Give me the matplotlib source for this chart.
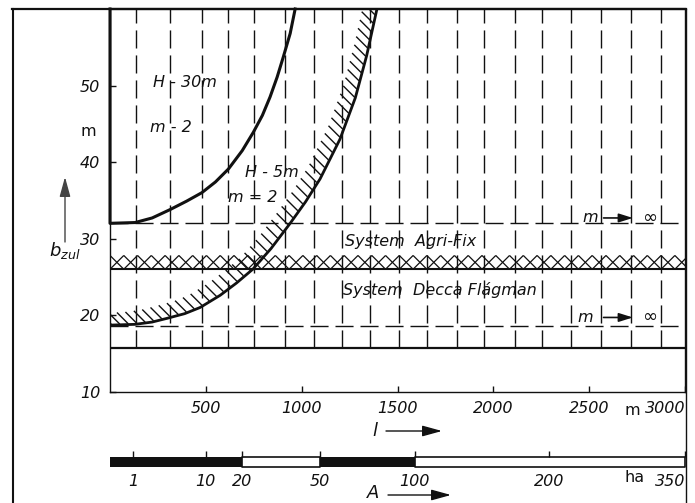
import numpy as np
import matplotlib
matplotlib.use('Agg')
import matplotlib.pyplot as plt
from matplotlib.collections import LineCollection
from matplotlib.lines import Line2D
from matplotlib.patches import FancyArrowPatch
import matplotlib.transforms as mtransforms

plt.rcParams['font.family'] = ['DejaVu Sans']
plt.rcParams['mathtext.fontset'] = 'dejavusans'

# ---------------- data ----------------
# H = 30 m, m = 2 curve (l in m, b_zul in m)
h30_l = [0, 0, 131, 220, 314, 400, 479, 550, 618, 690, 748, 795, 835, 872, 905, 940, 966]
h30_b = [60.0, 32.0, 32.1, 32.7, 33.8, 34.9, 36.0, 37.4, 39.1, 41.5, 43.9, 46.1, 48.5, 51.1, 53.8, 56.8, 60.0]
# H = 5 m, m = 2 curve
h5_l = [0, 130, 220, 300, 390, 470, 575, 660, 745, 840, 940, 1020, 1096, 1200, 1280, 1339, 1391]
h5_b = [18.7, 18.8, 19.1, 19.6, 20.2, 21.0, 22.6, 24.2, 26.0, 28.7, 32.0, 34.8, 37.8, 43.0, 48.4, 53.9, 59.8]
# vertical dashed guide lines (l positions)
grid_l = [137, 314, 479, 617, 752, 912, 1065, 1213, 1358, 1506, 1653, 1809,
          1951, 2111, 2255, 2407, 2564, 2718, 2873]
# horizontal levels
limit_agrifix = 32.0      # m -> infinity (dashed)
limit_decca = 18.6        # m -> infinity (dashed)
band_low, band_high = 26.0, 27.8   # cross-hatched band
base_level = 15.7         # solid base line

l_ticks = [500, 1000, 1500, 2000, 2500, 3000]
l_ticklabels = ['500', '1000', '1500', '2000', '2500', '3000']
b_ticks = [10, 20, 30, 40, 50]
b_ticklabels = ['10', '20', '30', '40', '50']

# area scale A (ha) and where its ticks sit on the l scale
A_labels = ['1', '10', '20', '50', '100', '200', '350']
A_pos_l = [120, 500, 690, 1095, 1590, 2290, 3000]

W, H = 695, 503
fig = plt.figure(figsize=(W / 100, H / 100), dpi=100)

def fx(x):
    return x / W

def fy(y):
    return 1 - y / H

ax_left, ax_right, ax_top, ax_bot = 110, 685, 9, 391.7
ax = fig.add_axes([fx(ax_left), fy(ax_bot), (ax_right - ax_left) / W, (ax_bot - ax_top) / H])
ax.set_xlim(0, 3000)
ax.set_ylim(10, 60)

ink = '#111111'
dash = (0, (13, 5))

# vertical dashed lines
ax.vlines(grid_l, base_level, 60, colors=ink, linewidth=1.0, linestyles=[dash])
# horizontal lines
ax.hlines([limit_agrifix, limit_decca], 0, 3000, colors=ink, linewidth=1.0, linestyles=[dash])
ax.hlines([band_low], 0, 3000, colors=ink, linewidth=1.5)
ax.hlines([base_level], 0, 3000, colors=ink, linewidth=1.6)

T = ax.transData
Ti = T.inverted()

# cross-hatched band
y0 = T.transform((0, band_low))[1]
y1 = T.transform((0, band_high))[1]
hh = y1 - y0
xl = T.transform((0, band_low))[0]
xr = T.transform((3000, band_low))[0]
segs = []
for xs in np.arange(xl - hh, xr + hh, hh):
    segs.append(Ti.transform([(xs, y0), (xs + hh, y1)]))
    segs.append(Ti.transform([(xs, y1), (xs + hh, y0)]))
ax.add_collection(LineCollection(segs, colors=ink, linewidths=0.9))

# curves
ax.plot(h30_l, h30_b, color=ink, linewidth=2.2, clip_on=False, solid_joinstyle='round')
ax.plot(h5_l, h5_b, color=ink, linewidth=2.0, solid_joinstyle='round')

# hatch strokes on the upper-left side of the H = 5 m curve
P = T.transform(np.column_stack([h5_l, h5_b]))
d = np.r_[0, np.cumsum(np.hypot(*np.diff(P, axis=0).T))]
s = np.arange(2, d[-1], 8.5)
pts = np.column_stack([np.interp(s, d, P[:, 0]), np.interp(s, d, P[:, 1])])
u = np.array([-1.0, 1.0]) / np.sqrt(2)
st = pts + 1.0 * u
en = pts + 17.0 * u
hseg = [Ti.transform([a, b]) for a, b in zip(st, en)]
ax.add_collection(LineCollection(hseg, colors=ink, linewidths=1.0))

# axes styling
for sp in ['left', 'bottom', 'right']:
    ax.spines[sp].set_linewidth(1.0)
    ax.spines[sp].set_color(ink)
ax.spines['top'].set_linewidth(1.6)
ax.set_xticks(l_ticks)
ax.set_xticklabels(l_ticklabels)
ax.set_yticks(b_ticks)
ax.set_yticklabels(b_ticklabels)
ax.tick_params(axis='both', direction='in', length=4.3, width=1.0, color=ink,
               labelsize=11.5, labelcolor=ink)
ax.tick_params(axis='x', pad=6.5)
ax.tick_params(axis='y', pad=7)
for t in ax.get_xticklabels() + ax.get_yticklabels():
    t.set_fontstyle('italic')
ax.get_xticklabels()[-1].set_horizontalalignment('right')

tfont = dict(fontsize=11.5, fontstyle='italic', color=ink)
blend = mtransforms.blended_transform_factory(ax.transData, ax.transAxes)
ax.text(2723, -0.048, 'm', transform=blend, ha='center', va='center', fontsize=11.5, color=ink)

# in-plot labels
ax.text(225, 50.4, 'H - 30m', ha='left', va='center', **tfont)
ax.text(210, 44.5, 'm - 2', ha='left', va='center', **tfont)
ax.text(705, 38.7, 'H - 5m', ha='left', va='center', **tfont)
ax.text(618, 35.4, 'm = 2', ha='left', va='center', **tfont)
ax.text(1226, 29.6, 'System  Agri-Fix', ha='left', va='center', **tfont)
ax.text(1216, 23.3, 'System  Decca Flágman', ha='left', va='center', **tfont)

for yy, xm in [(32.7, 2467), (19.7, 2441)]:
    ax.text(xm, yy, 'm', ha='left', va='center', **tfont)
    ax.annotate('', xy=(2728, yy), xytext=(2575, yy),
                arrowprops=dict(arrowstyle='-|>,head_length=0.7,head_width=0.22',
                                mutation_scale=12, lw=1.2, color=ink, shrinkA=0, shrinkB=0))
    ax.text(2816, yy, '∞', ha='center', va='center', fontsize=13, color=ink)

# ---------------- area scale A ----------------
bar_top, bar_bot = 456.7, 466.7
ax2 = fig.add_axes([fx(ax_left), fy(bar_bot), (ax_right - ax_left) / W, (bar_bot - bar_top) / H])
ax2.set_xlim(0, 3000)
ax2.set_ylim(0, 1)
p20, p50, p100 = A_pos_l[2], A_pos_l[3], A_pos_l[4]
ax2.broken_barh([(0, p20), (p50, p100 - p50)], (0, 1), facecolors=ink, edgecolor=ink, linewidth=1.0)
ax2.broken_barh([(p20, p50 - p20), (p100, 3000 - p100)], (0, 1), facecolors='white',
                edgecolor=ink, linewidth=1.2, clip_on=False)
for sp in ax2.spines.values():
    sp.set_visible(False)
ax2.set_yticks([])
ax2.set_xticks(A_pos_l)
ax2.set_xticklabels(A_labels)
ax2.tick_params(axis='x', which='both', bottom=False, top=True, direction='out', length=4,
                width=1.0, color=ink, labelbottom=True, labeltop=False, pad=1.5,
                labelsize=11.5, labelcolor=ink)
for t in ax2.get_xticklabels():
    t.set_fontstyle('italic')
ax2.get_xticklabels()[-1].set_horizontalalignment('right')
ax2.text(2738, -1.13, 'ha', transform=mtransforms.blended_transform_factory(ax2.transData, ax2.transAxes),
         ha='center', va='center', fontsize=11.5, color=ink)

# ---------------- axis captions and arrows ----------------
fig.text(fx(375), fy(431), 'l', ha='center', va='center', fontsize=13, fontstyle='italic', color=ink)
fig.add_artist(FancyArrowPatch((fx(386), fy(431)), (fx(442), fy(431)), transform=fig.transFigure,
                               arrowstyle='-|>,head_length=0.8,head_width=0.22', mutation_scale=15,
                               lw=1.0, color=ink, shrinkA=0, shrinkB=0))
fig.text(fx(373), fy(493), 'A', ha='center', va='center', fontsize=13, fontstyle='italic', color=ink)
fig.add_artist(FancyArrowPatch((fx(388), fy(495)), (fx(451), fy(495)), transform=fig.transFigure,
                               arrowstyle='-|>,head_length=0.8,head_width=0.22', mutation_scale=15,
                               lw=1.0, color=ink, shrinkA=0, shrinkB=0))

fig.text(fx(49), fy(256), r'$b_{zul}$', ha='left', va='baseline', fontsize=13, color=ink)
fig.add_artist(FancyArrowPatch((fx(65), fy(242)), (fx(65), fy(177)), transform=fig.transFigure,
                               arrowstyle='-|>,head_length=0.8,head_width=0.22', mutation_scale=15,
                               lw=1.0, color='#444444', shrinkA=0, shrinkB=0))
fig.text(fx(88), fy(132), 'm', ha='center', va='center', fontsize=11.5, color=ink)

# outer frame
fig.add_artist(Line2D([fx(12.5), fx(12.5)], [fy(9), 0], transform=fig.transFigure, color=ink, lw=1.5))
fig.add_artist(Line2D([fx(12), fx(686)], [fy(9), fy(9)], transform=fig.transFigure, color=ink, lw=1.6))
fig.add_artist(Line2D([fx(685.5), fx(685.5)], [fy(9), 0], transform=fig.transFigure, color=ink, lw=1.0))

fig.savefig('out.png', dpi=100, facecolor='white')
